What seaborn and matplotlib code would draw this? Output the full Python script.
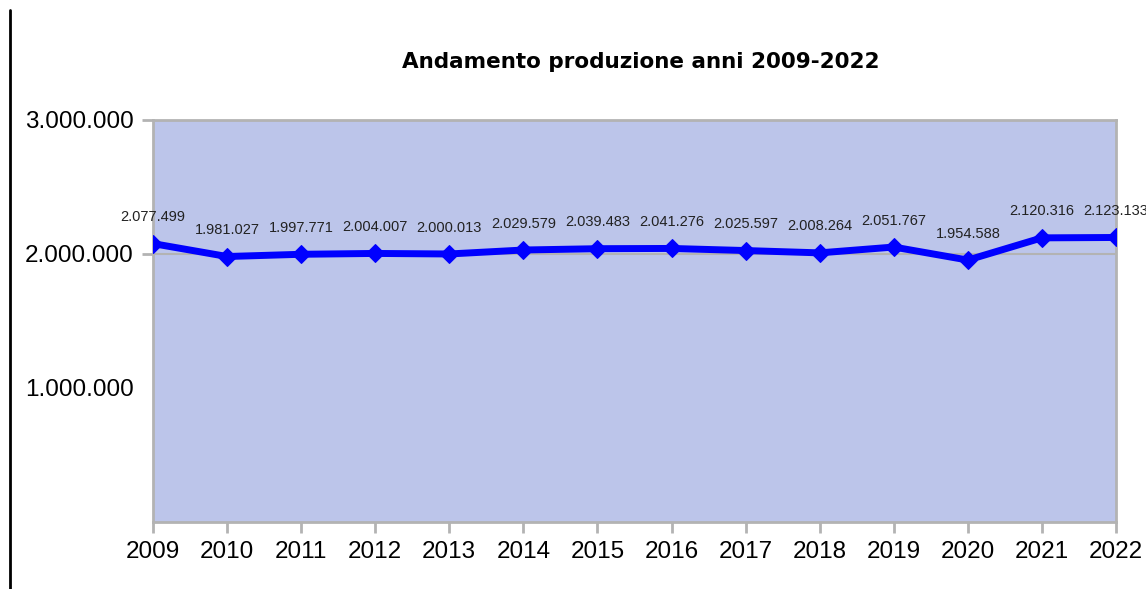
import matplotlib
matplotlib.use("Agg")
import matplotlib.pyplot as plt
import matplotlib.ticker as mticker
from matplotlib.lines import Line2D
import pandas as pd
import seaborn as sns

# dati produzione
anni = [2009, 2010, 2011, 2012, 2013, 2014, 2015, 2016, 2017, 2018, 2019, 2020, 2021, 2022]
produzione = [2077499, 1981027, 1997771, 2004007, 2000013, 2029579, 2039483,
              2041276, 2025597, 2008264, 2051767, 1954588, 2120316, 2123133]
y_ticks = [1000000, 2000000, 3000000]

df = pd.DataFrame({'anno': anni, 'produzione': produzione})


def fmt_it(v):
    return f"{int(v):,}".replace(',', '.')


sns.set_theme(style="white")
plt.rcParams['font.family'] = ['Liberation Sans', 'DejaVu Sans']

fig = plt.figure(figsize=(11.46, 5.89), dpi=100)
ax = fig.add_axes([0.1335, 0.1138, 0.8403, 0.6825])
ax.set_facecolor('#bcc5ea')

# linea di riferimento a 2.000.000
ax.axhline(2000000, color='#b3b3b3', linewidth=1.5, zorder=1)

sns.lineplot(data=df, x='anno', y='produzione', ax=ax, color='#0000ff',
             linewidth=5, marker='D', markersize=9, markeredgecolor='#0000ff', zorder=3)

for a, p in zip(anni, produzione):
    ax.annotate(fmt_it(p), (a, p), xytext=(0, 19), textcoords='offset points',
                ha='center', va='center', fontsize=10.5, color='#222222')

ax.set_xlim(anni[0], anni[-1])
ax.set_ylim(0, 3000000)
ax.set_xticks(anni)
ax.set_yticks(y_ticks)
ax.yaxis.set_major_formatter(mticker.FuncFormatter(lambda v, _: fmt_it(v)))
ax.tick_params(axis='both', labelsize=17.5, length=8, width=2, color='#b3b3b3',
               left=True, bottom=True, pad=6, labelcolor='black')
ax.yaxis.get_major_ticks()[0].tick1line.set_visible(False)
for s in ['top', 'right', 'left', 'bottom']:
    ax.spines[s].set_color('#b3b3b3')
    ax.spines[s].set_linewidth(2)
ax.set_xlabel('')
ax.set_ylabel('')

fig.text(0.559, 0.895, 'Andamento produzione anni 2009-2022', ha='center', va='center',
         fontsize=15.5, fontweight='bold', color='black', family='DejaVu Sans')

# linea verticale nera a sinistra
fig.add_artist(Line2D([0.0087, 0.0087], [0, 0.983], color='black', linewidth=2))

fig.savefig('out.png', dpi=100)
